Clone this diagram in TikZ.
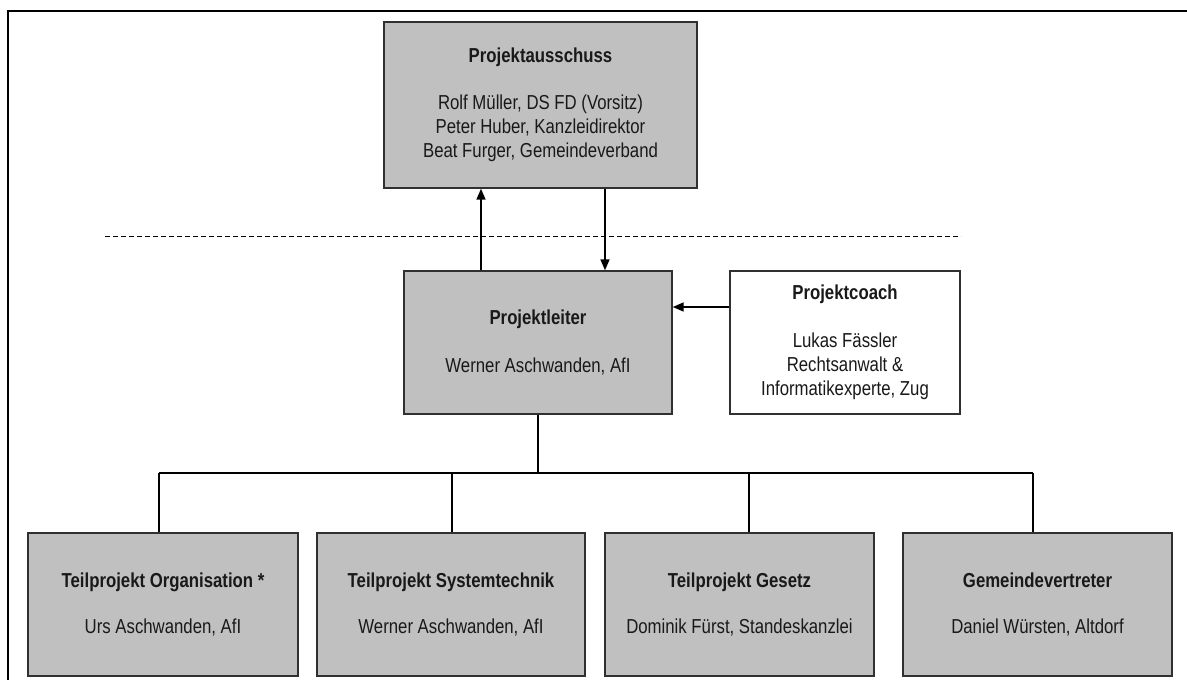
\documentclass[tikz,border=0pt]{standalone}
\usepackage{fontspec}
\setmainfont[FakeStretch=0.83]{Liberation Sans}
\usetikzlibrary{arrows.meta}
\definecolor{boxgray}{HTML}{C0C0C0}
\definecolor{edgegray}{HTML}{303030}
\begin{document}
\begin{tikzpicture}[x=1pt,y=-1pt,
  orgbox/.style={draw=edgegray, line width=1.4pt, fill=boxgray, rectangle, align=center,
    inner sep=0pt, font=\fontsize{20.2}{24.2}\selectfont, text=black!90},
  whitebox/.style={orgbox, fill=white},
  conn/.style={draw=black, line width=1.6pt},
  arr/.style={conn, -{Triangle[length=11pt,width=9pt]}},
  sep/.style={draw=black, line width=1pt, dash pattern=on 5pt off 3pt}]
\useasboundingbox (0,0) rectangle (1187,680);
% frame (right and bottom edges lie outside the picture)
\coordinate (fa) at (8,682);
\coordinate (fb) at (8,11);
\coordinate (fc) at (1190,11);
\draw[line width=2.6pt, black] (fa) -- (fb) -- (fc);

\node[orgbox, minimum width=313pt, minimum height=166pt] (pa) at (540.5,105)
  {\textbf{Projektausschuss}\\[22pt]Rolf Müller, DS FD (Vorsitz)\\Peter Huber, Kanzleidirektor\\Beat Furger, Gemeindeverband};
\node[orgbox, minimum width=268pt, minimum height=143pt] (pl) at (538,342.5)
  {\textbf{Projektleiter}\\[24pt]Werner Aschwanden, AfI};
\node[whitebox, minimum width=230pt, minimum height=143pt] (pc) at (845,342.5)
  {\textbf{Projektcoach}\\[23pt]Lukas Fässler\\Rechtsanwalt \&\\Informatikexperte, Zug};

\node[orgbox, minimum width=270pt, minimum height=143pt] (t1) at (163,604.5)
  {\textbf{Teilprojekt Organisation *}\\[21pt]Urs Aschwanden, AfI};
\node[orgbox, minimum width=268pt, minimum height=143pt] (t2) at (451,604.5)
  {\textbf{Teilprojekt Systemtechnik}\\[21pt]Werner Aschwanden, AfI};
\node[orgbox, minimum width=269pt, minimum height=143pt] (t3) at (739.5,604.5)
  {\textbf{Teilprojekt Gesetz}\\[21pt]Dominik Fürst, Standeskanzlei};
\node[orgbox, minimum width=269pt, minimum height=143pt] (t4) at (1037.5,604.5)
  {\textbf{Gemeindevertreter}\\[21pt]Daniel Würsten, Altdorf};

% dashed separator
\coordinate (dl) at (105,236);
\coordinate (dr) at (961,236);
\draw[sep] (dl) -- (dr);

% arrows between Projektleiter and Projektausschuss
\coordinate (ux) at (481,0);
\coordinate (dx) at (605,0);
\draw[arr] (pl.north -| ux) -- (pa.south -| ux);
\draw[arr] (pa.south -| dx) -- (pl.north -| dx);
\coordinate (cy) at (0,307);
\draw[arr] (pc.west |- cy) -- (pl.east |- cy);

% tree to subprojects
\coordinate (bus) at (0,473);
\coordinate (d1) at (159,473);
\coordinate (d2) at (452,473);
\coordinate (d3) at (749,473);
\coordinate (d4) at (1033,473);
\draw[conn] (pl.south) -- (pl.south |- bus);
\draw[conn] (d1) -- (d4);
\draw[conn] (d1) -- (t1.north -| d1);
\draw[conn, line width=1.1pt] (d2) -- (t2.north -| d2);
\draw[conn] (d3) -- (t3.north -| d3);
\draw[conn] (d4) -- (t4.north -| d4);
\end{tikzpicture}
\end{document}
